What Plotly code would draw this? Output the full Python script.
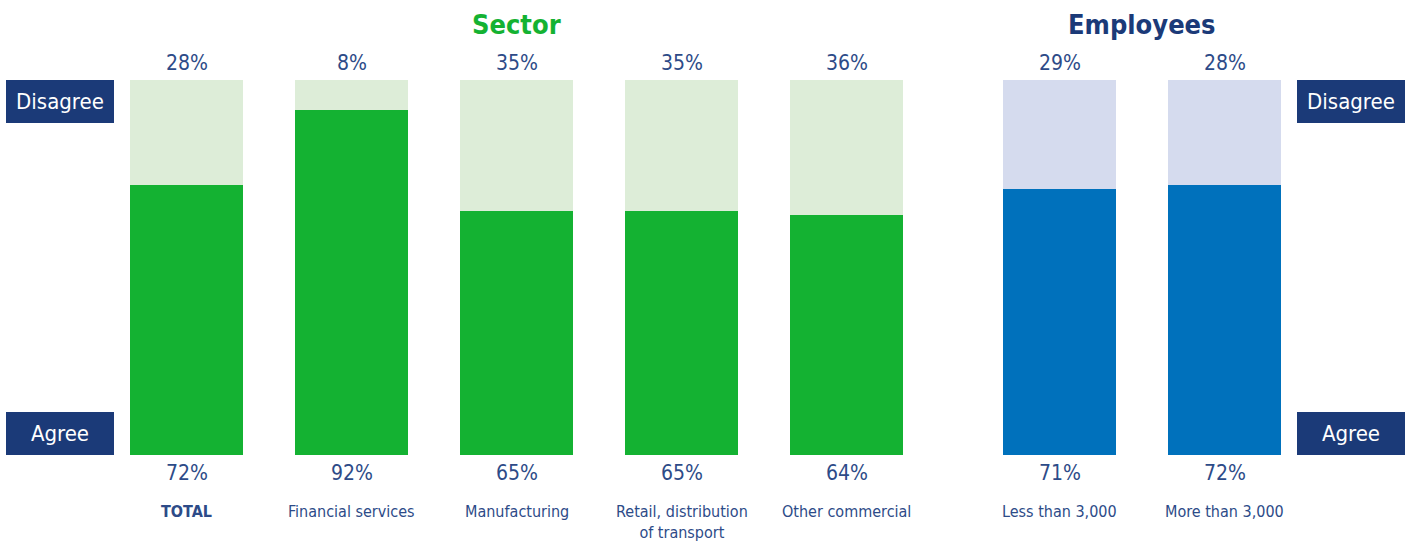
import plotly.graph_objects as go

# Survey results: share agreeing / disagreeing, by sector and company size
sector_labels = ["<b>TOTAL</b>", "Financial services", "Manufacturing",
                 "Retail, distribution<br>of transport", "Other commercial"]
sector_agree = [72, 92, 65, 65, 64]
sector_disagree = [28, 8, 35, 35, 36]

employee_labels = ["Less than 3,000", "More than 3,000"]
employee_agree = [71, 72]
employee_disagree = [29, 28]

W, H = 1409, 546
GREEN, LIGHT_GREEN = "#14B232", "#DDEDD8"
BLUE, LIGHT_BLUE = "#0071BC", "#D5DBEE"
NAVY = "#1B3A78"
LABEL = "#2D4B88"
FONT = "DejaVu Sans Condensed, sans-serif"

# x positions (pixel-like axis units)
sector_x = [186.5 + 165 * i for i in range(len(sector_labels))]
employee_x = [1059.5 + 165 * i for i in range(len(employee_labels))]
bar_w = 113

fig = go.Figure()
fig.add_bar(x=sector_x, y=sector_agree, width=bar_w, marker_color=GREEN,
            marker_line_width=0, hoverinfo="skip")
fig.add_bar(x=sector_x, y=sector_disagree, width=bar_w, marker_color=LIGHT_GREEN,
            marker_line_width=0, hoverinfo="skip")
fig.add_bar(x=employee_x, y=employee_agree, width=bar_w, marker_color=BLUE,
            marker_line_width=0, hoverinfo="skip")
fig.add_bar(x=employee_x, y=employee_disagree, width=bar_w, marker_color=LIGHT_BLUE,
            marker_line_width=0, hoverinfo="skip")

ann = []
xs = sector_x + employee_x
agrees = sector_agree + employee_agree
disagrees = sector_disagree + employee_disagree
labels = sector_labels + employee_labels
for x, a, d, lab in zip(xs, agrees, disagrees, labels):
    ann.append(dict(x=x, y=100, xref="x", yref="y", text=f"{d}%", showarrow=False,
                    yanchor="bottom", yshift=3, font=dict(size=21, color=LABEL, family=FONT)))
    ann.append(dict(x=x, y=0, xref="x", yref="y", text=f"{a}%", showarrow=False,
                    yanchor="top", yshift=-4, font=dict(size=21, color=LABEL, family=FONT)))
    ann.append(dict(x=x, y=0, xref="x", yref="y", text=lab, showarrow=False,
                    yanchor="top", yshift=-45, font=dict(size=16, color=LABEL, family=FONT)))

# group titles
ann.append(dict(x=sum(sector_x) / len(sector_x), y=1, xref="x", yref="paper",
                yanchor="bottom", yshift=38, text="<b>Sector</b>", showarrow=False,
                font=dict(size=27, color=GREEN, family=FONT)))
ann.append(dict(x=sum(employee_x) / len(employee_x), y=1, xref="x", yref="paper",
                yanchor="bottom", yshift=38, text="<b>Employees</b>", showarrow=False,
                font=dict(size=27, color=NAVY, family=FONT)))

# side boxes
for bx in (60, 1351):
    for yy, txt, anchor in ((100, "Disagree", "top"), (0, "Agree", "bottom")):
        ann.append(dict(x=bx, y=yy, xref="x", yref="y", text=txt, showarrow=False,
                        yanchor=anchor, width=104, height=39, bgcolor=NAVY,
                        borderpad=2, borderwidth=0,
                        font=dict(size=22, color="white", family=FONT)))

fig.update_layout(
    barmode="stack",
    width=W, height=H,
    margin=dict(l=0, r=0, t=80, b=91),
    plot_bgcolor="white", paper_bgcolor="white",
    showlegend=False,
    xaxis=dict(range=[0, W], visible=False),
    yaxis=dict(range=[0, 100], visible=False),
    annotations=ann,
)

fig.write_html("out.html")
